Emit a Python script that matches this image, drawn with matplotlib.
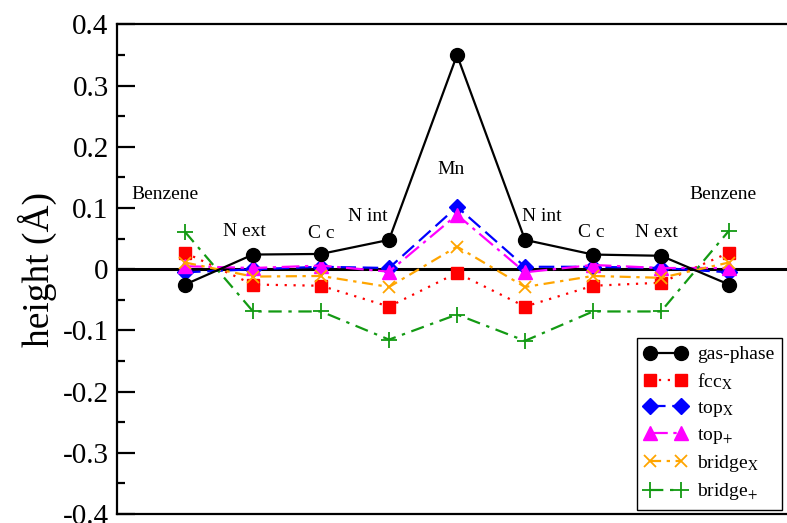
import matplotlib
matplotlib.use("Agg")
import matplotlib.pyplot as plt

plt.rcParams["font.family"] = ["Liberation Serif", "DejaVu Serif"]
plt.rcParams["mathtext.fontset"] = "stix"

# 位置：苯 - N ext - C c - N int - Mn - N int - C c - N ext - 苯
positions = [1, 2, 3, 4, 5, 6, 7, 8, 9]

gas_phase = [-0.025, 0.024, 0.025, 0.048, 0.350, 0.048, 0.024, 0.022, -0.025]
fcc_x = [0.027, -0.025, -0.027, -0.061, -0.006, -0.061, -0.027, -0.022, 0.027]
top_x = [-0.005, 0.000, 0.004, 0.002, 0.102, 0.004, 0.004, 0.002, -0.005]
top_plus = [0.005, 0.002, 0.006, -0.004, 0.089, -0.005, 0.007, 0.002, 0.002]
bridge_x = [0.011, -0.012, -0.011, -0.029, 0.037, -0.029, -0.011, -0.014, 0.011]
bridge_plus = [0.061, -0.069, -0.069, -0.115, -0.074, -0.117, -0.069, -0.069, 0.063]

site_names = ["Benzene", "N ext", "C c", "N int", "Mn",
              "N int", "C c", "N ext", "Benzene"]
site_x = [0.71, 1.87, 3.0, 3.69, 4.91, 6.24, 6.97, 7.94, 8.91]
site_y = [0.122, 0.061, 0.058, 0.086, 0.163, 0.087, 0.060, 0.060, 0.122]

series = [
    (gas_phase, "gas-phase", "black", "-", "o", 10),
    (fcc_x, r"fcc$_{\mathrm{X}}$", "#ff0000", (0, (1, 3)), "s", 9),
    (top_x, r"top$_{\mathrm{X}}$", "#0000ff", (0, (7, 3)), "D", 8),
    (top_plus, r"top$_{+}$", "#ff00ff", (0, (8, 2.5, 1.5, 2.5)), "^", 10),
    (bridge_x, r"bridge$_{\mathrm{X}}$", "#ffa500", (0, (5, 2.5, 1.5, 2.5)), "x", 8),
    (bridge_plus, r"bridge$_{+}$", "#139a13", (0, (6, 3, 1.5, 3)), "+", 11),
]

fig = plt.figure(figsize=(7.87, 5.23), dpi=100)
ax = fig.add_axes([0.1487, 0.0172, 0.864, 0.936])

ax.axhline(0, color="black", lw=2.2, zorder=1)

for y, lab, col, ls, mk, ms in series:
    ax.plot(positions, y, color=col, ls=ls, lw=1.6, marker=mk, ms=ms,
            mew=1.3 if mk in "x+" else 1, label=lab, zorder=3)
# 黑線畫在最上層
ax.lines[1].set_zorder(4)

for name, x, y in zip(site_names, site_x, site_y):
    ax.text(x, y, name, fontsize=14, ha="center", va="center")

ax.set_xlim(0, 10)
ax.set_ylim(-0.4, 0.4)
ax.set_yticks([-0.4, -0.3, -0.2, -0.1, 0, 0.1, 0.2, 0.3, 0.4])
ax.set_yticklabels(["-0.4", "-0.3", "-0.2", "-0.1", "0", "0.1", "0.2", "0.3", "0.4"])
ax.set_yticks([-0.35, -0.25, -0.15, -0.05, 0.05, 0.15, 0.25, 0.35], minor=True)
ax.set_xticks([])
ax.tick_params(axis="y", which="major", direction="in", length=13, width=1.6,
               labelsize=21, pad=6)
ax.tick_params(axis="y", which="minor", direction="in", length=6, width=1.6)
for s in ax.spines.values():
    s.set_linewidth(1.6)
ax.set_ylabel("height (Å)", fontsize=27, labelpad=4)

leg = ax.legend(loc="lower right", bbox_to_anchor=(0.978, 0.008), fontsize=14,
                numpoints=2, handlelength=2.2, fancybox=False, framealpha=1,
                edgecolor="black", labelspacing=0.38, borderpad=0.4,
                handletextpad=0.5, borderaxespad=0)
leg.get_frame().set_linewidth(1.0)

fig.savefig("out.png", dpi=100)
